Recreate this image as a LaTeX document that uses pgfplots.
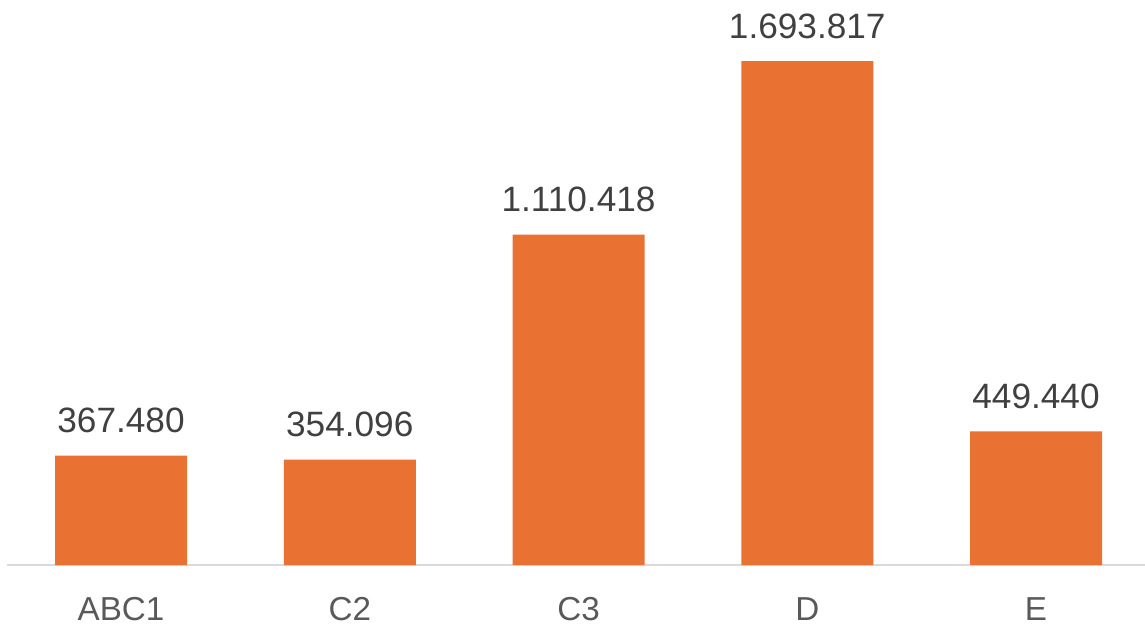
\documentclass[border=0pt]{standalone}
\usepackage{fontspec}
\setmainfont{Liberation Sans}
\usepackage{pgfplots}
\pgfplotsset{compat=1.18}
\definecolor{barorange}{HTML}{E97132}
\definecolor{labelgray}{HTML}{404040}
\definecolor{tickgray}{HTML}{595959}
\definecolor{axisgray}{HTML}{D9D9D9}
\begin{document}
\begin{tikzpicture}
\begin{axis}[
    scale only axis,
    width=569pt, height=282.5pt,
    xmin=-0.4984, xmax=4.4765,
    ymin=0, ymax=1899000,
    axis x line*=bottom,
    axis y line=none,
    x axis line style={draw=axisgray, line width=1pt, -},
    xtick={0,1,2,3,4},
    xticklabels={ABC1,C2,C3,D,E},
    major tick length=0pt,
    xticklabel shift=16pt,
    xticklabel style={font=\fontsize{16.6}{20}\selectfont, text=tickgray, inner sep=0pt, anchor=north},
    ytick=\empty,
    clip=false,
    nodes near coords,
    point meta=explicit symbolic,
    every node near coord/.append style={font=\fontsize{17.6}{21}\selectfont, text=labelgray, inner sep=0pt, anchor=south, yshift=11pt},
]
\addplot[ybar, bar width=66pt, fill=barorange, draw=none]
    coordinates {
    (0,367480) [367.480]
    (1,354096) [354.096]
    (2,1110418) [1.110.418]
    (3,1693817) [1.693.817]
    (4,449440) [449.440]
    };
\end{axis}
\pgfresetboundingbox
\path (current axis.south west) ++(-3.5pt,-31pt) rectangle (current axis.north east);
\end{tikzpicture}
\end{document}
